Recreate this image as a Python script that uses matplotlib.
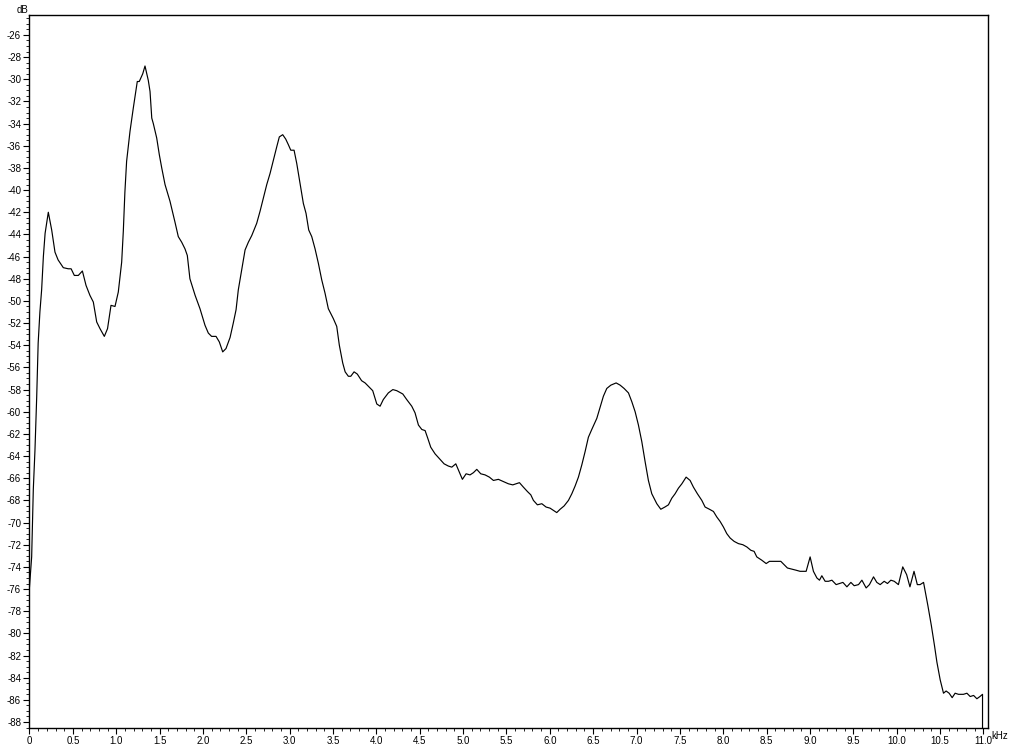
import matplotlib
matplotlib.use('Agg')
import numpy as np
import matplotlib.pyplot as plt
from matplotlib.ticker import MultipleLocator

plt.rcParams['font.family'] = ['Liberation Sans', 'DejaVu Sans']
plt.rcParams['axes.unicode_minus'] = False

# spectrum (kHz, dB)
freq = [0.0, 0.025, 0.044, 0.063, 0.083, 0.10, 0.12, 0.14, 0.16, 0.18,
        0.217, 0.256, 0.294, 0.33, 0.39, 0.447, 0.48, 0.517, 0.563, 0.61,
        0.652, 0.697, 0.736, 0.775, 0.813, 0.863, 0.90, 0.94, 0.986, 1.024,
        1.063, 1.082, 1.10, 1.12, 1.159, 1.197, 1.243, 1.266, 1.283, 1.306,
        1.332, 1.370, 1.39, 1.41, 1.428, 1.467, 1.497, 1.525, 1.563, 1.62,
        1.678, 1.716, 1.755, 1.793, 1.82, 1.85, 1.91, 1.966, 2.024, 2.062,
        2.10, 2.151, 2.189, 2.228, 2.266, 2.313, 2.35, 2.382, 2.408, 2.447,
        2.486, 2.524, 2.563, 2.62, 2.659, 2.697, 2.736, 2.774, 2.812, 2.851,
        2.881, 2.92, 2.955, 2.985, 3.013, 3.051, 3.082, 3.12, 3.158, 3.189,
        3.22, 3.255, 3.293, 3.331, 3.37, 3.408, 3.446, 3.504, 3.543, 3.573,
        3.612, 3.64, 3.677, 3.705, 3.743, 3.78, 3.83, 3.87, 3.908, 3.958,
        4.005, 4.043, 4.08, 4.138, 4.19, 4.235, 4.305, 4.35, 4.408, 4.446,
        4.485, 4.524, 4.562, 4.593, 4.627, 4.677, 4.735, 4.781, 4.83, 4.87,
        4.916, 4.954, 4.992, 5.035, 5.08, 5.119, 5.158, 5.204, 5.254, 5.303,
        5.35, 5.407, 5.465, 5.522, 5.573, 5.611, 5.65, 5.695, 5.742, 5.781,
        5.811, 5.857, 5.908, 5.957, 6.003, 6.042, 6.08, 6.119, 6.165, 6.215,
        6.254, 6.292, 6.33, 6.369, 6.407, 6.445, 6.484, 6.542, 6.58, 6.618,
        6.657, 6.704, 6.765, 6.811, 6.857, 6.907, 6.946, 6.984, 7.022, 7.061,
        7.099, 7.137, 7.176, 7.234, 7.28, 7.327, 7.368, 7.407, 7.445, 7.483,
        7.523, 7.572, 7.618, 7.656, 7.702, 7.753, 7.791, 7.841, 7.887, 7.926,
        7.964, 8.002, 8.041, 8.08, 8.126, 8.175, 8.226, 8.272, 8.318, 8.356,
        8.387, 8.445, 8.495, 8.533, 8.579, 8.625, 8.664, 8.702, 8.74, 8.791,
        8.84, 8.886, 8.925, 8.956, 9.002, 9.04, 9.08, 9.11, 9.137, 9.175,
        9.214, 9.253, 9.302, 9.34, 9.38, 9.426, 9.472, 9.51, 9.56, 9.599,
        9.648, 9.686, 9.733, 9.771, 9.81, 9.856, 9.894, 9.933, 9.972, 10.02,
        10.07, 10.115, 10.153, 10.2, 10.238, 10.27, 10.31, 10.36, 10.40, 10.436,
        10.464, 10.502, 10.54, 10.57, 10.605, 10.64, 10.674, 10.713, 10.77, 10.81,
        10.848, 10.887, 10.925, 10.96, 10.99, 10.99]
level = [-75.8, -73.1, -67.0, -63.5, -58.7, -53.8, -51.0, -49.0, -46.0, -43.9,
         -42.0, -43.6, -45.6, -46.3, -47.0, -47.1, -47.1, -47.7, -47.7, -47.3,
         -48.6, -49.5, -50.1, -51.9, -52.5, -53.2, -52.5, -50.4, -50.5, -49.2,
         -46.5, -43.7, -40.2, -37.4, -34.7, -32.6, -30.2, -30.2, -29.9, -29.5,
         -28.8, -30.1, -31.1, -33.5, -34.0, -35.3, -36.8, -38.0, -39.5, -41.0,
         -42.9, -44.2, -44.7, -45.3, -45.9, -48.0, -49.5, -50.7, -52.2, -52.9,
         -53.2, -53.2, -53.7, -54.6, -54.3, -53.3, -52.0, -50.8, -49.0, -47.2,
         -45.4, -44.7, -44.1, -43.0, -41.9, -40.7, -39.5, -38.5, -37.3, -36.1,
         -35.2, -35.0, -35.4, -35.9, -36.4, -36.4, -37.6, -39.4, -41.2, -42.1,
         -43.6, -44.2, -45.3, -46.6, -48.1, -49.3, -50.7, -51.6, -52.3, -54.0,
         -55.6, -56.4, -56.8, -56.8, -56.4, -56.6, -57.2, -57.4, -57.7, -58.1,
         -59.3, -59.5, -58.9, -58.3, -58.0, -58.1, -58.4, -58.9, -59.5, -60.1,
         -61.2, -61.6, -61.7, -62.4, -63.2, -63.8, -64.3, -64.7, -64.9, -65.0,
         -64.7, -65.4, -66.1, -65.6, -65.7, -65.5, -65.2, -65.6, -65.7, -65.9,
         -66.2, -66.1, -66.3, -66.5, -66.6, -66.5, -66.4, -66.8, -67.2, -67.5,
         -68.0, -68.4, -68.3, -68.6, -68.7, -68.9, -69.1, -68.8, -68.5, -68.0,
         -67.4, -66.7, -65.9, -64.8, -63.6, -62.3, -61.6, -60.6, -59.6, -58.6,
         -57.9, -57.6, -57.4, -57.6, -57.9, -58.3, -59.1, -60.0, -61.2, -62.7,
         -64.5, -66.2, -67.4, -68.3, -68.8, -68.6, -68.4, -67.8, -67.4, -66.9,
         -66.5, -65.9, -66.2, -66.8, -67.4, -68.0, -68.6, -68.8, -69.0, -69.5,
         -69.9, -70.4, -71.0, -71.4, -71.7, -71.9, -72.0, -72.2, -72.5, -72.6,
         -73.1, -73.4, -73.7, -73.5, -73.5, -73.5, -73.5, -73.8, -74.1, -74.2,
         -74.3, -74.4, -74.4, -74.4, -73.1, -74.4, -75.0, -75.2, -74.8, -75.3,
         -75.3, -75.2, -75.6, -75.5, -75.4, -75.8, -75.4, -75.7, -75.6, -75.2,
         -75.9, -75.6, -74.9, -75.4, -75.6, -75.3, -75.5, -75.2, -75.3, -75.6,
         -74.0, -74.7, -75.8, -74.4, -75.6, -75.6, -75.4, -77.5, -79.3, -81.1,
         -82.6, -84.2, -85.4, -85.2, -85.4, -85.8, -85.4, -85.5, -85.5, -85.4,
         -85.7, -85.6, -85.9, -85.7, -85.5, -88.6]

xticks = np.arange(0, 11.01, 0.5)
xlabels = ['%g' % t if t == 0 else '%.1f' % t for t in xticks]
yticks = np.arange(-26, -89, -2)

fig = plt.figure(figsize=(10.24, 7.45), dpi=100)
ax = fig.add_axes([0.0288, 0.0228, 0.9362, 0.9575])
ax.plot(freq, level, color='black', lw=0.85)

ax.set_xlim(0, 11.055)
ax.set_ylim(-88.54, -24.17)
ax.set_xticks(xticks)
ax.set_xticklabels(xlabels)
ax.set_yticks(yticks)
ax.set_yticklabels(['%d' % t for t in yticks])
ax.xaxis.set_minor_locator(MultipleLocator(0.1))
ax.yaxis.set_minor_locator(MultipleLocator(0.5))
ax.tick_params(which='major', length=4, width=0.8, direction='out',
               labelsize=7, pad=2, colors='black')
ax.tick_params(which='minor', length=2, width=0.6, direction='out')
for s in ax.spines.values():
    s.set_linewidth(1.0)
    s.set_color('black')

fig.text(0.0166, 0.993, 'dB', fontsize=7, ha='left', va='top')
fig.text(0.9685, 0.0115, 'kHz', fontsize=7, ha='left', va='center')

plt.savefig('out.png', dpi=100)
